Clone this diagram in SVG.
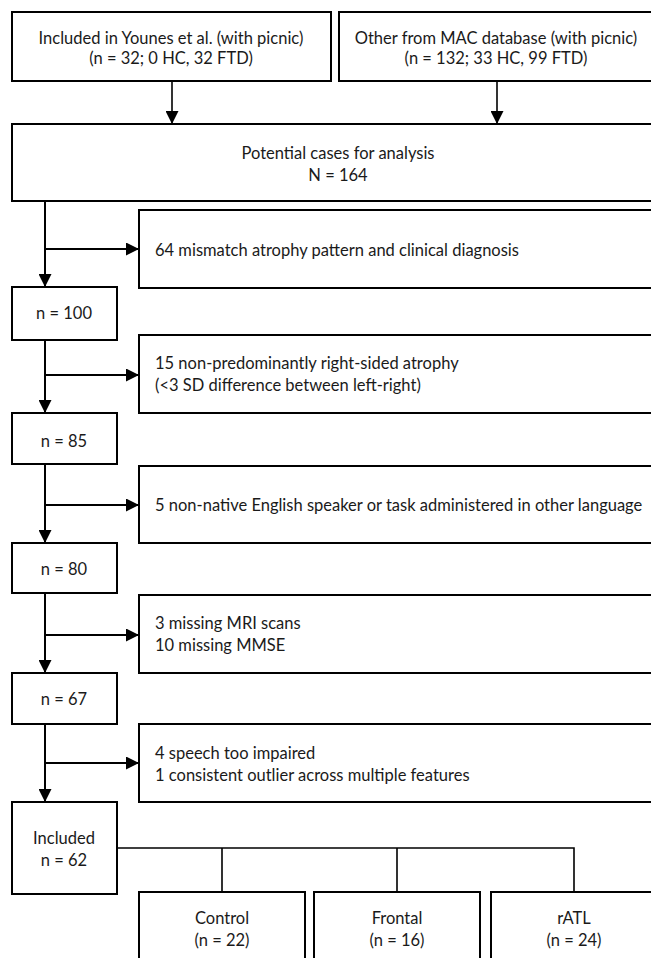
<svg xmlns="http://www.w3.org/2000/svg" width="651" height="958" viewBox="0 0 651 958">
<defs>
<marker id="ah" viewBox="0 0 10 10" refX="10" refY="5" markerWidth="13" markerHeight="13" markerUnits="userSpaceOnUse" orient="auto">
<path d="M0,0 L10,5 L0,10 Z" fill="#000"/>
</marker>
<style>
.box{fill:#fff;stroke:#000;stroke-width:2}
.t{font-family:Lato,"Open Sans",sans-serif;font-size:16.5px;fill:#1a1a1a}
.c{text-anchor:middle}
.ln{fill:none;stroke:#000;stroke-width:2}
.thin{fill:none;stroke:#000;stroke-width:1.6}
</style>
</defs>
<rect width="651" height="958" fill="#fff"/>
<g id="connectors">
<line class="thin" x1="172" y1="81" x2="172" y2="124" marker-end="url(#ah)"/>
<line class="thin" x1="497" y1="81" x2="497" y2="124" marker-end="url(#ah)"/>
<line class="ln" x1="45" y1="201" x2="45" y2="287" marker-end="url(#ah)"/>
<line class="ln" x1="45" y1="249" x2="139" y2="249" marker-end="url(#ah)"/>
<line class="ln" x1="45" y1="340" x2="45" y2="413" marker-end="url(#ah)"/>
<line class="ln" x1="45" y1="375" x2="139" y2="375" marker-end="url(#ah)"/>
<line class="ln" x1="45" y1="464" x2="45" y2="543" marker-end="url(#ah)"/>
<line class="ln" x1="45" y1="505" x2="139" y2="505" marker-end="url(#ah)"/>
<line class="ln" x1="45" y1="593" x2="45" y2="673" marker-end="url(#ah)"/>
<line class="ln" x1="45" y1="635" x2="139" y2="635" marker-end="url(#ah)"/>
<line class="ln" x1="45" y1="724" x2="45" y2="802" marker-end="url(#ah)"/>
<line class="ln" x1="45" y1="763" x2="139" y2="763" marker-end="url(#ah)"/>
<path class="thin" d="M117,848 H574 V892 M222,848 V892 M397,848 V892"/>
</g>
<g id="n-younes"><rect class="box" x="12" y="12" width="319" height="69"/>
<text class="t c" x="171" y="44">Included in Younes et al. (with picnic)</text>
<text class="t c" x="171" y="64">(n = 32; 0 HC, 32 FTD)</text></g>
<g id="n-mac"><rect class="box" x="339" y="12" width="330" height="69"/>
<text class="t c" x="496" y="44">Other from MAC database (with picnic)</text>
<text class="t c" x="496" y="64">(n = 132; 33 HC, 99 FTD)</text></g>
<g id="n-potential"><rect class="box" x="12" y="124" width="660" height="77"/>
<text class="t c" x="338" y="159">Potential cases for analysis</text>
<text class="t c" x="338" y="181">N = 164</text></g>
<g id="x-mismatch"><rect class="box" x="139" y="210" width="530" height="78"/>
<text class="t" x="155" y="256">64 mismatch atrophy pattern and clinical diagnosis</text></g>
<g id="n-100"><rect class="box" x="12" y="287" width="105" height="53"/>
<text class="t c" x="64" y="319">n = 100</text></g>
<g id="x-right"><rect class="box" x="139" y="335" width="530" height="78"/>
<text class="t" x="155" y="369">15 non-predominantly right-sided atrophy</text>
<text class="t" x="155" y="391">(&lt;3 SD difference between left-right)</text></g>
<g id="n-85"><rect class="box" x="12" y="413" width="105" height="51"/>
<text class="t c" x="64" y="447">n = 85</text></g>
<g id="x-lang"><rect class="box" x="139" y="466" width="530" height="77"/>
<text class="t" x="155" y="511">5 non-native English speaker or task administered in other language</text></g>
<g id="n-80"><rect class="box" x="12" y="543" width="105" height="50"/>
<text class="t c" x="64" y="575">n = 80</text></g>
<g id="x-missing"><rect class="box" x="139" y="595" width="530" height="78"/>
<text class="t" x="155" y="629">3 missing MRI scans</text>
<text class="t" x="155" y="651">10 missing MMSE</text></g>
<g id="n-67"><rect class="box" x="12" y="673" width="105" height="51"/>
<text class="t c" x="64" y="705">n = 67</text></g>
<g id="x-speech"><rect class="box" x="139" y="724" width="530" height="78"/>
<text class="t" x="155" y="759">4 speech too impaired</text>
<text class="t" x="155" y="781">1 consistent outlier across multiple features</text></g>
<g id="n-included"><rect class="box" x="12" y="802" width="105" height="92"/>
<text class="t c" x="64" y="844">Included</text>
<text class="t c" x="64" y="866">n = 62</text></g>
<g id="n-control"><rect class="box" x="139" y="892" width="166" height="80"/>
<text class="t c" x="222" y="924">Control</text>
<text class="t c" x="222" y="946">(n = 22)</text></g>
<g id="n-frontal"><rect class="box" x="314" y="892" width="166" height="80"/>
<text class="t c" x="397" y="924">Frontal</text>
<text class="t c" x="397" y="946">(n = 16)</text></g>
<g id="n-ratl"><rect class="box" x="491" y="892" width="180" height="80"/>
<text class="t c" x="574" y="924">rATL</text>
<text class="t c" x="574" y="946">(n = 24)</text></g>
</svg>
